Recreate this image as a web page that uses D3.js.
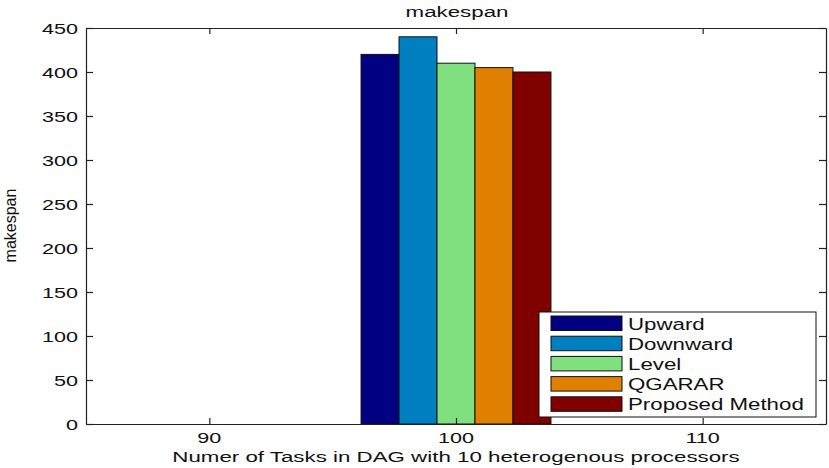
<!DOCTYPE html>
<html>
<head>
<meta charset="utf-8">
<script src="https://cdn.jsdelivr.net/npm/d3@7"></script>
<style>
  html, body { margin: 0; padding: 0; background: #fff; }
  svg { display: block; font-family: "Liberation Sans", Arial, Helvetica, sans-serif; }
</style>
</head>
<body>
<svg id="chart" width="829" height="468"></svg>
<script>
// Task counts on the x axis
const categories = [90, 100, 110];
// Scheduling methods
const seriesNames = ["Upward", "Downward", "Level", "QGARAR", "Proposed Method"];
const seriesColors = ["#000080", "#0080c0", "#80e080", "#e08000", "#800000"];
// Makespan per method, one entry per task count
const upward   = [0, 420, 0];
const downward = [0, 440, 0];
const level    = [0, 410, 0];
const qgarar   = [0, 405, 0];
const proposed = [0, 400, 0];
const seriesValues = [upward, downward, level, qgarar, proposed];
const yTicks = [0, 50, 100, 150, 200, 250, 300, 350, 400, 450];

const svg = d3.select("#chart");
const plot = { left: 86, right: 826, top: 28, bottom: 424 };

const x = d3.scaleLinear().domain([85, 115]).range([plot.left, plot.right]);
const y = d3.scaleLinear().domain([0, 450]).range([plot.bottom, plot.top]);

// text is drawn horizontally widened
function label(g, px, py, str, size, anchor, sx) {
  return g.append("text")
    .attr("transform", `translate(${px},${py}) scale(${sx},1)`)
    .attr("text-anchor", anchor)
    .attr("font-size", size)
    .attr("fill", "#111")
    .text(str);
}

// bars
const groupWidth = 7.7;
const bw = groupWidth / seriesNames.length;
const barData = [];
seriesValues.forEach((vals, i) => {
  vals.forEach((v, j) => {
    barData.push({ i, cat: categories[j], v });
  });
});
svg.append("g").selectAll("rect").data(barData).join("rect")
  .attr("x", d => x(d.cat - groupWidth / 2 + d.i * bw))
  .attr("width", d => x(d.cat - groupWidth / 2 + (d.i + 1) * bw) - x(d.cat - groupWidth / 2 + d.i * bw))
  .attr("y", d => y(d.v))
  .attr("height", d => y(0) - y(d.v))
  .attr("fill", d => seriesColors[d.i])
  .attr("stroke", "#111")
  .attr("stroke-width", 1);

// axes box with inward ticks
const axisG = svg.append("g");
const yL = d3.axisLeft(y).tickValues(yTicks).tickSizeInner(-7).tickSizeOuter(0).tickFormat("");
const yR = d3.axisRight(y).tickValues(yTicks).tickSizeInner(-7).tickSizeOuter(0).tickFormat("");
const xB = d3.axisBottom(x).tickValues(categories).tickSizeInner(-6).tickSizeOuter(0).tickFormat("");
const xT = d3.axisTop(x).tickValues(categories).tickSizeInner(-6).tickSizeOuter(0).tickFormat("");
axisG.append("g").attr("transform", `translate(${plot.left},0)`).call(yL);
axisG.append("g").attr("transform", `translate(${plot.right},0)`).call(yR);
axisG.append("g").attr("transform", `translate(0,${plot.bottom})`).call(xB);
axisG.append("g").attr("transform", `translate(0,${plot.top})`).call(xT);
axisG.selectAll(".domain").attr("stroke", "#222").attr("stroke-width", 1.2);
axisG.selectAll(".tick line").attr("stroke", "#222").attr("stroke-width", 1.2);

// tick labels
const tl = svg.append("g");
yTicks.forEach(t => label(tl, plot.left - 8, y(t) + 5.5, String(t), 15, "end", 1.44));
categories.forEach(c => label(tl, x(c), 443, String(c), 15, "middle", 1.44));

// titles
label(svg, (plot.left + plot.right) / 2 + 1, 17, "makespan", 15.5, "middle", 1.44);
label(svg, (plot.left + plot.right) / 2, 462, "Numer of Tasks in DAG with 10 heterogenous processors", 15.5, "middle", 1.44);
svg.append("text")
  .attr("transform", `translate(16,${(plot.top + plot.bottom) / 2 - 0.5}) scale(1.05,1) rotate(-90)`)
  .attr("text-anchor", "middle")
  .attr("font-size", 16)
  .attr("fill", "#111")
  .text("makespan");

// legend
const lg = svg.append("g");
lg.append("rect").attr("x", 539).attr("y", 312).attr("width", 277).attr("height", 105)
  .attr("fill", "#fff").attr("stroke", "#111").attr("stroke-width", 1);
seriesNames.forEach((name, i) => {
  const ry = 316 + i * 20.2;
  lg.append("rect").attr("x", 551).attr("y", ry).attr("width", 71).attr("height", 14.5)
    .attr("fill", seriesColors[i]).attr("stroke", "#111").attr("stroke-width", 1);
  label(lg, 628, ry + 13.5, name, 16.5, "start", 1.35);
});
</script>
</body>
</html>
